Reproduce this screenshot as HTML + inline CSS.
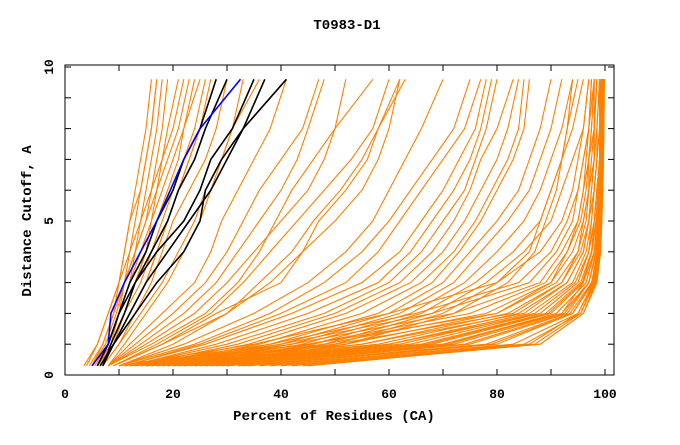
<!DOCTYPE html>
<html><head><meta charset="utf-8"><style>
body{margin:0;background:#fff}
svg text{font-family:"Liberation Mono",monospace;font-weight:bold;fill:#000}
</style></head><body>
<svg id="chart" width="680" height="440" viewBox="0 0 680 440" xmlns="http://www.w3.org/2000/svg">
<rect x="0" y="0" width="680" height="440" fill="#fff"/>
<text x="347" y="29" font-size="14" text-anchor="middle">T0983-D1</text>
<text x="334" y="420" font-size="14" text-anchor="middle">Percent of Residues (CA)</text>
<text x="0" y="0" font-size="14" text-anchor="middle" transform="translate(31,221) rotate(-90)">Distance Cutoff, A</text>
<g id="lines"></g>
<g id="axes"></g>
</svg>
<script>
const yLevels=[0.3,1,2,3,4,5,6,7,8,9.6];
const xTicks=[0,20,40,60,80,100];
const yTicks=[0,5,10];
const orangeCurves=[
[4,6,8,10,11,12,13,14,15,16],[4.5,7,9,10,12,13,14,15,16,17],[5,7,9,11,12,14,15,16,17,18],
[5,7.5,9.5,11,13,14,16,17,18,19],[5.5,8,10,11,13,15,16,18,19,21],[6,8,10,12,14,16,17,18,20,22],
[6,8.5,10,12,13,15,17,19,21,23],[6.5,9,11,13,15,17,19,21,22,24],[7,9,11,14,16,18,20,22,24,26],
[7,9,12,15,17,19,21,23,25,27],[3.5,6,8,10,11,12,14,15,16,17],[5,8,10,13,15,16,18,20,22,25],
[6,9,12,15,17,19,21,23,25,28],[7,10,13,16,18,20,23,26,28,30],[7,10,14,18,21,24,26,29,31,33],
[8,11,15,19,22,25,27,29,31,36],[8,12,18,24,27,29,32,35,38,41],
[8,14,22,28,32,36,40,43,45,48],[8,13,20,26,30,33,36,40,44,47],[8,15,24,30,35,40,45,48,50,52],
[8,16,26,32,36,39,42,46,50,57],[9,17,27,33,38,43,48,53,57,60],[9,18,30,36,42,46,51,55,58,62],
[9,18,28,40,44,47,52,56,58,63],[10,20,30,38,44,50,55,58,60,62],
[10,22,35,45,52,57,60,63,66,70],[10,24,38,48,55,60,64,68,72,75],[11,25,40,52,58,62,66,70,74,77],
[11,26,42,55,62,66,70,73,76,78],[12,28,45,58,64,68,72,75,77,79],[12,30,48,60,66,70,74,76,78,80],
[13,32,50,62,68,72,75,77,80,83],[14,34,52,64,70,74,77,80,82,84],[15,36,55,66,72,76,79,82,84,85],
[16,38,58,68,73,77,80,83,85,86],[17,40,60,70,75,80,84,86,88,90],[18,42,62,72,77,82,86,88,90,92],
[19,44,64,74,80,85,88,90,92,94],[20,46,66,76,83,88,90,92,94,96],[22,48,68,78,85,90,92,94,96,97],
[24,50,70,80,86,88,90,92,93,95],[26,52,72,82,87,89,91,92,93,94],
[10,35,60,80,88,92,94,95,96,97],[11,38,65,84,90,93,95,96,97,98],[12,40,68,86,91,94,95,96,97,97.5],
[13,42,72,88,92,95,96,97,97.5,98],[14,45,75,89,93,95.5,96.5,97,98,98],[15,48,78,90,94,96,97,97.5,98,98.5],
[16,52,80,91,95,96.5,97,98,98,98.5],[17,55,82,92,95.5,97,97.5,98,98.5,99],[18,58,84,93,96,97,98,98.5,99,99],
[19,60,86,94,96.5,97.5,98,98.5,99,99],[20,62,87,94.5,97,98,98.5,99,99,99.2],[21,64,88,95,97,98,98.5,99,99.2,99.3],
[22,66,89,95.5,97.5,98.3,98.7,99,99.2,99.4],[24,68,90,96,98,98.5,99,99.2,99.3,99.5],[26,70,91,96.5,98,98.7,99,99.2,99.4,99.5],
[28,72,92,97,98.3,98.8,99.1,99.3,99.5,99.6],[30,75,93,97,98.5,99,99.2,99.4,99.5,99.6],[32,78,93.5,97.5,98.6,99,99.3,99.5,99.6,99.7],
[34,80,94,97.8,98.8,99.2,99.4,99.5,99.6,99.7],[36,83,95,98,99,99.3,99.5,99.6,99.7,99.8],[38,85,95.5,98.2,99,99.3,99.5,99.6,99.7,99.8],
[40,88,96,98.5,99.2,99.4,99.6,99.7,99.8,99.8],[42,86,95,97.8,98.8,99.2,99.4,99.5,99.6,99.7],[44,87,95.5,98,99,99.3,99.5,99.6,99.7,99.8],
[45,88,96,98.3,99.1,99.4,99.6,99.7,99.8,99.9],[33,79,94,97.6,98.7,99.1,99.3,99.4,99.5,99.6],[29,74,92.5,97,98.4,98.9,99.2,99.3,99.4,99.5],
[27,71,91,96.5,98.1,98.7,99,99.2,99.3,99.4],[23,67,89.5,95.8,97.6,98.4,98.8,99,99.2,99.3],
[30,70,92,96,97.5,98,98.5,99,99,99],[25,60,88,95,97,97.5,98,98.5,98.5,99],
[20,55,85,93,96,97,97.5,98,98,98.5],[15,50,83,92,95,96,97,97,97.5,98],[12,45,80,90,93,95,96,96.5,97,97.5]
];
const blackCurves=[
[6,8,10,12,15,17,20,22,25,28],[7,8.5,11,13,17,22,25,27,31,35],
[6.5,9,12,15,19,23,27,30,33,37],[7,9,13,17,22,25,26,29,33,41],[6,8,10,13,16,19,21,24,26,30]
];
const blueCurve=[5,8,8.5,11,14,17,19.5,22,25,32.5];

const X0=65,X1=605,Y0=375,Y1=67;
const sx=v=>X0+(X1-X0)*v/100;
const sy=v=>Y0-(Y0-Y1)*v/10;
const NS="http://www.w3.org/2000/svg";
const lines=document.getElementById('lines');
function draw(arr,color,w,name){
  const p=document.createElementNS(NS,'polyline');
  p.setAttribute('points',arr.map((x,i)=>sx(x).toFixed(1)+','+sy(yLevels[i]).toFixed(1)).join(' '));
  p.setAttribute('fill','none');p.setAttribute('stroke',color);p.setAttribute('stroke-width',w);
  
  
  lines.appendChild(p);
}
orangeCurves.forEach(c=>draw(c,'#ff8000',1.1,'model-curve'));
blackCurves.forEach(c=>draw(c,'#000',1.6,'highlight-curve'));
draw(blueCurve,'#0000ff',1.6,'reference-curve');

const axes=document.getElementById('axes');
function el(tag,attrs,text){const e=document.createElementNS(NS,tag);for(const k in attrs)e.setAttribute(k,attrs[k]);if(text!==undefined)e.textContent=text;axes.appendChild(e);return e;}
const frame=el('rect',{x:X0,y:Y1-2,width:614-X0,height:Y0-Y1+2,fill:'none',stroke:'#000','stroke-width':1});


for(let v=0;v<=100;v+=10){
  const t1=el('line',{x1:sx(v),y1:Y0,x2:sx(v),y2:Y0-6,stroke:'#000'});
  
  
  const t2=el('line',{x1:sx(v),y1:Y1-2,x2:sx(v),y2:Y1+4,stroke:'#000'});
  
  
}
for(let v=0;v<=10;v++){
  const t1=el('line',{x1:X0,y1:sy(v),x2:X0+6,y2:sy(v),stroke:'#000'});
  
  
  const t2=el('line',{x1:614,y1:sy(v),x2:608,y2:sy(v),stroke:'#000'});
  
  
}
xTicks.forEach(v=>{
  const t=el('text',{x:sx(v),y:398,'font-size':13,'text-anchor':'middle'},String(v));
  
  
});
yTicks.forEach(v=>{
  const t=el('text',{x:0,y:0,'font-size':13,'text-anchor':'middle',transform:`translate(53,${sy(v)}) rotate(-90)`},String(v));
  
  
});
</script>
</body></html>
